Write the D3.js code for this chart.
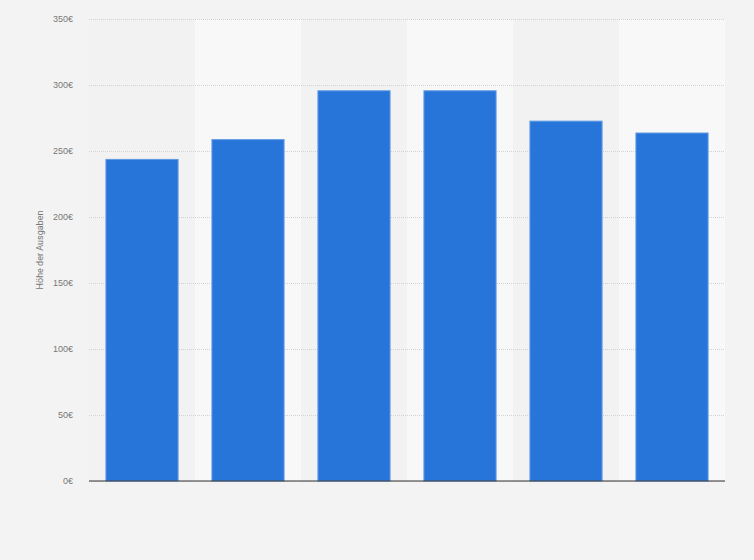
<!DOCTYPE html>
<html>
<head>
<meta charset="utf-8">
<script src="https://cdn.jsdelivr.net/npm/d3@7"></script>
<style>
  body { margin: 0; background: #f3f3f3; }
  svg { display: block; font-family: Roboto, Arial, sans-serif; }
</style>
</head>
<body>
<script>
// Data
const categories = ["1", "2", "3", "4", "5", "6"];
const values = [244, 259, 296, 296, 273, 264];
const yTicks = [0, 50, 100, 150, 200, 250, 300, 350];

const WIDTH = 754, HEIGHT = 560;
const margin = { top: 19, right: 29, bottom: 79, left: 89 };
const innerW = WIDTH - margin.left - margin.right;
const innerH = HEIGHT - margin.top - margin.bottom;

const svg = d3.select("body").append("svg")
  .attr("width", WIDTH)
  .attr("height", HEIGHT);

svg.append("rect")
  .attr("width", WIDTH).attr("height", HEIGHT)
  .attr("fill", "#f3f3f3");

const g = svg.append("g")
  .attr("transform", `translate(${margin.left},${margin.top})`);

// Scales
const x = d3.scaleBand()
  .domain(categories)
  .range([0, innerW])
  .paddingInner(0.31)
  .paddingOuter(0.155);

const bandX = d3.scaleBand()
  .domain(categories)
  .range([0, innerW]);

const y = d3.scaleLinear()
  .domain([0, 350])
  .range([innerH, 0]);

// Alternating column backgrounds
g.selectAll(".band")
  .data(categories)
  .enter().append("rect")
  .attr("class", "band")
  .attr("x", d => bandX(d))
  .attr("y", 0)
  .attr("width", bandX.bandwidth())
  .attr("height", innerH)
  .attr("fill", (d, i) => i % 2 ? "#f8f8f8" : "#f2f2f2");

// Gridlines + tick labels
const yAxis = d3.axisLeft(y)
  .tickValues(yTicks)
  .tickSize(-innerW)
  .tickPadding(16)
  .tickFormat(d => d + "€");

g.append("g")
  .call(yAxis)
  .call(a => a.select(".domain").remove())
  .call(a => a.selectAll(".tick line")
    .attr("stroke", "#d2d2d2")
    .attr("stroke-dasharray", "1,1"))
  .call(a => a.selectAll(".tick text")
    .attr("fill", "#777")
    .attr("font-size", 9));

// Bars
g.selectAll(".bar")
  .data(values)
  .enter().append("rect")
  .attr("class", "bar")
  .attr("x", (d, i) => x(categories[i]) + 0.5)
  .attr("y", d => y(d) + 0.5)
  .attr("width", x.bandwidth() - 1)
  .attr("height", d => innerH - y(d) - 0.5)
  .attr("fill", "#2775d9")
  .attr("stroke", "#5f9be6")
  .attr("stroke-width", 1);

// Baseline
g.append("line")
  .attr("x1", 0).attr("x2", innerW)
  .attr("y1", y(0)).attr("y2", y(0))
  .attr("stroke", "#333")
  .attr("stroke-width", 1.2);

// Y axis title
svg.append("text")
  .attr("transform", `translate(43,${margin.top + innerH / 2}) rotate(-90)`)
  .attr("text-anchor", "middle")
  .attr("fill", "#777")
  .attr("font-size", 9)
  .text("Höhe der Ausgaben");
</script>
</body>
</html>
